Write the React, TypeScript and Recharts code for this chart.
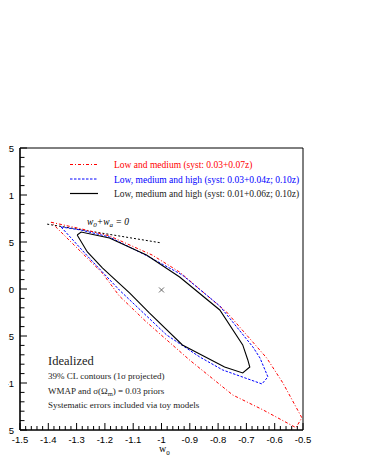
import React from 'react';
import { ComposedChart, XAxis, YAxis, Scatter, ReferenceLine, ReferenceArea } from 'recharts';

// Contour: Low and medium (red)
const redW0 = [-1.390, -1.284, -1.184, -1.032, -0.936, -0.770, -0.628, -0.571, -0.504, -0.525, -0.642, -0.748, -0.901, -1.053, -1.149, -1.209, -1.309, -1.390];
const redWa = [0.71, 0.64, 0.565, 0.36, 0.18, -0.245, -0.735, -1.0, -1.37, -1.475, -1.285, -1.128, -0.755, -0.352, -0.074, 0.17, 0.468, 0.71];
// Contour: Low, medium and high (blue)
const blueW0 = [-1.355, -1.284, -1.184, -1.050, -0.926, -0.794, -0.677, -0.652, -0.624, -0.645, -0.784, -0.865, -0.982, -1.149, -1.255, -1.355];
const blueWa = [0.66, 0.627, 0.553, 0.351, 0.148, -0.181, -0.617, -0.734, -0.935, -1.01, -0.861, -0.723, -0.489, -0.011, 0.329, 0.66];
// Contour: Low, medium and high, reduced syst (black)
const blackW0 = [-1.298, -1.284, -1.184, -1.053, -0.936, -0.794, -0.713, -0.695, -0.688, -0.713, -0.777, -0.926, -1.043, -1.113, -1.209, -1.262, -1.298];
const blackWa = [0.575, 0.606, 0.542, 0.361, 0.128, -0.223, -0.595, -0.755, -0.83, -0.893, -0.83, -0.595, -0.255, -0.042, 0.224, 0.394, 0.575];
// Fiducial point
const fiducialW0 = [-1.0];
const fiducialWa = [-0.01];
// "w0 + wa = 0" dashed line endpoints
const lineW0 = [-1.404, -1.0];
const lineWa = [0.69, 0.49];

const legendLabels = [
  'Low and medium (syst: 0.03+0.07z)',
  'Low, medium and high (syst: 0.03+0.04z; 0.10z)',
  'Low, medium and high (syst: 0.01+0.06z; 0.10z)',
];
const xMajorTicks = [-1.5, -1.4, -1.3, -1.2, -1.1, -1.0, -0.9, -0.8, -0.7, -0.6, -0.5];
const yMajorTicks = [-1.5, -1.0, -0.5, 0, 0.5, 1.0, 1.5];

const zip = (xs: number[], ys: number[]) => xs.map((x, i) => ({ x, y: ys[i] }));
const redData = zip(redW0, redWa);
const blueData = zip(blueW0, blueWa);
const blackData = zip(blackW0, blackWa);
const fiducialData = zip(fiducialW0, fiducialWa);

const xTicks: number[] = [];
for (let i = 0; i <= 50; i++) xTicks.push(Math.round((-1.5 + i * 0.02) * 100) / 100);
const yTicks: number[] = [];
for (let i = 0; i <= 30; i++) yTicks.push(Math.round((-1.5 + i * 0.1) * 10) / 10);

const isMajor = (v: number, arr: number[]) => arr.some((m) => Math.abs(m - v) < 1e-6);

const SANS = '"Liberation Sans", Arial, sans-serif';
const SERIF = '"Liberation Serif", "Times New Roman", serif';

const XTick = (props: any) => {
  const { x, y, payload } = props;
  const v = payload.value;
  const major = isMajor(v, xMajorTicks);
  const ay = y - 5;
  return (
    <g>
      <line x1={x} x2={x} y1={ay} y2={ay - (major ? 7 : 4)} stroke="#000" strokeWidth={1} />
      {major && (
        <text x={x} y={y} dy={7.5} textAnchor="middle" fontFamily={SANS} fontSize={9.5} fill="#000">
          {String(v)}
        </text>
      )}
    </g>
  );
};

const YTick = (props: any) => {
  const { x, y, payload } = props;
  const v = payload.value;
  const major = isMajor(v, yMajorTicks);
  const ax = x + 6;
  return (
    <g>
      <line x1={ax} x2={ax + (major ? 7 : 4.5)} y1={y} y2={y} stroke="#000" strokeWidth={1} />
      {major && (
        <text x={x} y={y} dy={3.5} textAnchor="end" fontFamily={SANS} fontSize={9.5} fill="#000">
          {String(v)}
        </text>
      )}
    </g>
  );
};

const Cross = (props: any) => {
  const { cx, cy } = props;
  const s = 2.5;
  return (
    <g stroke="#444" strokeWidth={0.8}>
      <line x1={cx - s} y1={cy - s} x2={cx + s} y2={cy + s} />
      <line x1={cx - s} y1={cy + s} x2={cx + s} y2={cy - s} />
    </g>
  );
};

const NoDot = () => <g />;

const RED = '#ff0000';
const BLUE = '#0000ff';
const RED_DASH = '3 2 1 2';
const BLUE_DASH = '2.5 1.5';

export default function App() {
  return (
    <div style={{ position: 'relative', width: 367, height: 461 }}>
      <div style={{ position: 'absolute', left: -30, top: -8 }}>
        <ComposedChart width={389} height={461} margin={{ top: 148, right: 64, bottom: 3, left: 0 }}>
          <XAxis
            type="number"
            dataKey="x"
            domain={[-1.5, -0.5]}
            ticks={xTicks}
            interval={0}
            tickSize={0}
            tickMargin={5}
            tick={<XTick />}
            axisLine={{ stroke: '#000', strokeWidth: 1.2 }}
            height={28}
            allowDataOverflow
          />
          <YAxis
            type="number"
            dataKey="y"
            domain={[-1.5, 1.5]}
            ticks={yTicks}
            interval={0}
            tickSize={0}
            tickMargin={6}
            tick={<YTick />}
            axisLine={{ stroke: '#000', strokeWidth: 1.2 }}
            width={42}
            allowDataOverflow
          />
          <ReferenceArea x1={-1.5} x2={-0.5} y1={-1.5} y2={1.5} fill="none" fillOpacity={0} stroke="#000" strokeWidth={1} />
          <ReferenceLine
            segment={[
              { x: lineW0[0], y: lineWa[0] },
              { x: lineW0[1], y: lineWa[1] },
            ]}
            stroke="#000"
            strokeWidth={1}
            strokeDasharray="2 2"
          />
          <Scatter
            data={redData}
            stroke={RED}
            fill="none"
            line={{ stroke: RED, strokeWidth: 1, strokeDasharray: RED_DASH }}
            lineType="joint"
            shape={<NoDot />}
            isAnimationActive={false}
          />
          <Scatter
            data={blueData}
            stroke={BLUE}
            fill="none"
            line={{ stroke: BLUE, strokeWidth: 1, strokeDasharray: BLUE_DASH }}
            lineType="joint"
            shape={<NoDot />}
            isAnimationActive={false}
          />
          <Scatter
            data={blackData}
            stroke="#000"
            fill="none"
            line={{ stroke: '#000', strokeWidth: 1.1 }}
            lineType="joint"
            shape={<NoDot />}
            isAnimationActive={false}
          />
          <Scatter data={fiducialData} shape={<Cross />} isAnimationActive={false} />
        </ComposedChart>
      </div>
      <svg
        width={367}
        height={461}
        style={{ position: 'absolute', left: -8, top: -8, pointerEvents: 'none' }}
      >
        {/* Legend */}
        <line x1={70} x2={98} y1={164.5} y2={164.5} stroke={RED} strokeWidth={1} strokeDasharray={RED_DASH} />
        <line x1={70} x2={98} y1={179} y2={179} stroke={BLUE} strokeWidth={1} strokeDasharray={BLUE_DASH} />
        <line x1={70} x2={98} y1={193.5} y2={193.5} stroke="#000" strokeWidth={1.2} />
        <text x={114} y={168} fontFamily={SERIF} fontSize={9.5} fill={RED}>{legendLabels[0]}</text>
        <text x={114} y={182.5} fontFamily={SERIF} fontSize={9.5} fill={BLUE}>{legendLabels[1]}</text>
        <text x={114} y={197} fontFamily={SERIF} fontSize={9.5} fill="#222">{legendLabels[2]}</text>
        {/* w0 + wa = 0 label */}
        <text x={87} y={225} fontFamily={SERIF} fontSize={9.5} fontStyle="italic" fill="#000">
          w<tspan fontSize={7} dy={2}>0</tspan>
          <tspan dy={-2}>+w</tspan>
          <tspan fontSize={7} dy={2}>a</tspan>
          <tspan dy={-2}> = 0</tspan>
        </text>
        {/* Annotation block */}
        <text x={48} y={365} fontFamily={SERIF} fontSize={12.5} fill="#222">Idealized</text>
        <text x={48} y={379} fontFamily={SERIF} fontSize={9} fill="#222">39% CL contours (1σ projected)</text>
        <text x={48} y={394} fontFamily={SERIF} fontSize={9} fill="#222">
          WMAP and σ(Ω<tspan fontSize={6.5} dy={2}>m</tspan>
          <tspan dy={-2}>) = 0.03 priors</tspan>
        </text>
        <text x={48} y={408} fontFamily={SERIF} fontSize={9} fill="#222">Systematic errors included via toy models</text>
        {/* X-axis title */}
        <text x={159} y={452} fontFamily={SERIF} fontSize={10} fill="#000">
          w<tspan fontSize={7} dy={3}>0</tspan>
        </text>
      </svg>
    </div>
  );
}
